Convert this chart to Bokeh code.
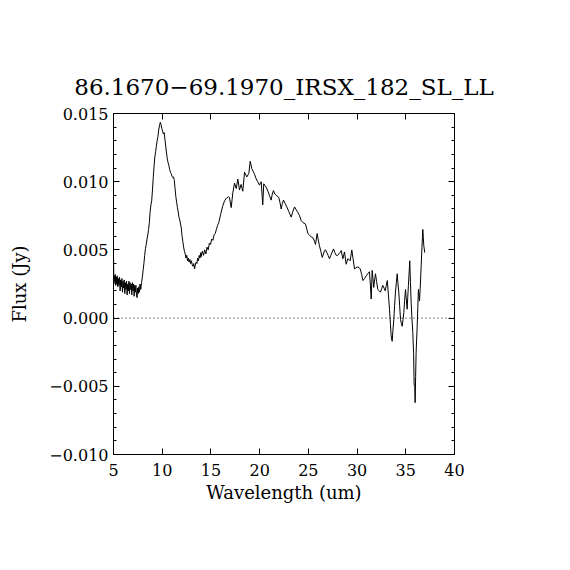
from bokeh.plotting import figure
from bokeh.models import Range1d, LinearAxis, FixedTicker, Span
from bokeh.embed import file_html
from bokeh.resources import INLINE

# Wavelength (um) and flux (Jy)
wavelength = [
    5.00, 5.04, 5.08, 5.13, 5.18, 5.23, 5.28, 5.33, 5.38, 5.44, 5.50, 5.56, 5.62, 5.68, 5.74,
    5.80, 5.86, 5.92, 5.98, 6.04, 6.10, 6.16, 6.22, 6.28, 6.34, 6.40, 6.46, 6.52, 6.58, 6.64,
    6.70, 6.76, 6.82, 6.88, 6.94, 7.00, 7.06, 7.12, 7.18, 7.24, 7.30, 7.36, 7.42, 7.48, 7.54,
    7.60, 7.66, 7.72, 7.80, 7.88, 7.96, 8.04, 8.12, 8.20, 8.28, 8.36, 8.44, 8.52, 8.60, 8.68,
    8.76, 8.84, 8.92, 9.00, 9.08, 9.16, 9.24, 9.32, 9.40, 9.48, 9.56, 9.64, 9.72, 9.80, 9.88,
    9.96, 10.04, 10.12, 10.20, 10.28, 10.36, 10.44, 10.52, 10.60, 10.68, 10.76, 10.84, 10.92, 11.00, 11.08,
    11.16, 11.24, 11.32, 11.40, 11.48, 11.56, 11.64, 11.72, 11.80, 11.88, 11.96, 12.04, 12.12, 12.20, 12.28,
    12.36, 12.44, 12.52, 12.60, 12.68, 12.76, 12.84, 12.92, 13.00, 13.08, 13.16, 13.24, 13.32, 13.40, 13.48,
    13.56, 13.64, 13.72, 13.80, 13.88, 13.96,
    14.00, 14.12, 14.24, 14.36, 14.48, 14.60, 14.72, 14.84, 14.96, 15.08, 15.20, 15.32, 15.44, 15.56, 15.68,
    15.80, 16.00, 16.20, 16.40, 16.60, 16.80,
    16.90, 17.08, 17.25, 17.42, 17.60, 17.76, 17.93, 18.10, 18.27, 18.45, 18.68, 18.89, 19.03, 19.20, 19.37,
    19.50, 19.65, 19.80, 19.98, 20.16, 20.32, 20.42, 20.55, 20.67, 20.85, 21.00, 21.18, 21.30, 21.42, 21.56,
    21.70, 21.96, 22.08, 22.21, 22.33, 22.45, 22.62, 22.79, 23.00, 23.24, 23.40, 23.58, 23.75, 23.92, 24.10,
    24.26, 24.45, 24.70, 24.82, 24.95, 25.10, 25.29, 25.46, 25.63, 25.73, 25.90, 26.00, 26.14, 26.28, 26.42,
    26.55, 26.66, 26.76, 26.90, 27.03, 27.17, 27.30, 27.45, 27.58, 27.72, 27.86, 28.00, 28.12, 28.25, 28.37,
    28.54, 28.71, 28.88, 29.05, 29.17, 29.29, 29.46, 29.60, 29.74, 29.90, 30.08, 30.20, 30.33, 30.47, 30.60,
    30.77, 30.94, 31.10, 31.27, 31.36, 31.45, 31.55, 31.63, 31.71, 31.80, 31.89, 32.00, 32.13, 32.27, 32.40,
    32.52, 32.64, 32.77, 32.89, 33.00, 33.10, 33.22, 33.33, 33.42, 33.50, 33.60, 33.68, 33.77, 33.85, 33.94,
    34.03, 34.12, 34.20, 34.28, 34.37, 34.46, 34.55, 34.63, 34.72, 34.80, 34.88, 34.97, 35.05, 35.14, 35.20,
    35.27, 35.34, 35.41, 35.48, 35.55, 35.63, 35.72, 35.80, 35.86, 35.92, 35.96, 36.01, 36.06, 36.11, 36.16,
    36.23, 36.30, 36.36, 36.41, 36.50, 36.58, 36.66, 36.75, 36.80, 36.85, 36.95,
]
flux_mjy = [
    4.6, 2.5, 3.1, 2.7, 3.2, 2.4, 3.0, 2.5, 3.1, 2.3, 2.9, 2.4, 3.0, 2.0, 2.8,
    2.3, 2.9, 1.9, 2.7, 2.2, 2.8, 1.8, 2.6, 2.1, 2.7, 1.7, 2.5, 2.0, 2.7, 1.8,
    2.6, 2.1, 2.5, 1.7, 2.6, 2.0, 2.5, 1.6, 2.4, 1.9, 2.4, 1.7, 1.5, 2.2, 1.8,
    2.3, 1.9, 2.5, 2.1, 2.6, 3.0, 3.5, 4.0, 4.6, 5.1, 5.4, 5.8, 6.1, 6.5, 7.0,
    7.8, 8.3, 8.6, 9.4, 10.3, 11.1, 11.8, 12.2, 12.6, 13.0, 13.3, 13.8, 14.1, 14.35, 14.2,
    13.9, 13.7, 13.5, 13.6, 13.1, 12.6, 12.1, 11.7, 11.4, 11.2, 10.9, 10.7, 10.6, 10.4, 10.3,
    10.35, 10.1, 9.5, 8.9, 8.5, 8.1, 7.8, 7.4, 7.2, 6.9, 6.6, 6.0, 5.6, 5.2, 4.9,
    4.7, 4.4, 4.6, 4.2, 4.4, 4.1, 4.3, 4.0, 4.2, 3.9, 3.8, 4.0, 3.6, 3.9, 4.1,
    4.0, 4.4, 4.2, 4.6, 4.4, 4.8,
    4.5, 4.9, 4.6, 5.0, 4.7, 5.2, 5.0, 5.5, 5.4, 5.8, 5.7, 6.1, 6.2, 6.5, 6.8,
    7.0, 7.6, 8.2, 8.6, 8.8, 8.9,
    8.85, 8.1, 9.2, 9.9, 9.5, 10.2, 9.4, 9.8, 9.3, 10.7, 10.35, 10.6, 11.5, 10.95, 10.7,
    10.5, 10.2, 10.0, 9.75, 10.0, 8.3, 9.85, 9.7, 9.6, 9.3, 9.0, 8.65, 9.1, 9.35, 9.1,
    9.0, 8.85, 8.5, 8.0, 8.4, 8.65, 8.4, 8.15, 7.8, 7.4, 7.8, 8.15, 7.95, 7.75, 7.5,
    7.15, 7.0, 6.9, 6.6, 6.2, 6.1, 5.95, 5.9, 5.65, 5.4, 6.2, 5.8, 5.3, 4.9, 4.45,
    4.7, 4.95, 5.0, 4.8, 4.6, 4.35, 4.6, 4.85, 5.07, 4.8, 4.6, 4.6, 4.7, 4.8, 4.95,
    4.35, 4.85, 3.95, 4.35, 4.3, 4.2, 5.0, 4.3, 3.6, 3.7, 3.75, 3.7, 3.6, 3.2, 2.75,
    2.9, 3.1, 3.25, 3.4, 2.5, 1.4, 3.5, 2.9, 2.25, 2.8, 3.25, 2.7, 2.1, 2.0, 1.9,
    2.15, 2.4, 2.2, 2.0, 2.4, 2.75, 1.7, 0.65, -0.4, -1.3, -1.7, -0.9, -0.1, 0.9, 1.9,
    2.6, 3.25, 2.5, 1.9, 0.9, -0.1, -0.4, -0.6, -0.1, 0.4, 1.3, 2.1, 1.4, 0.65, 1.5,
    2.4, 3.3, 4.2, 2.6, 1.15, 0.0, -1.05, -2.6, -4.9, -5.0, -6.2, -4.3, -2.5, -1.6, -0.8,
    0.7, 2.1, 1.6, 1.25, 2.5, 3.85, 5.2, 6.5, 5.9, 5.3, 4.8,
]
flux = [v / 1000.0 for v in flux_mjy]

title_text = "86.1670\u221269.1970_IRSX_182_SL_LL"
x_label = "Wavelength (um)"
y_label = "Flux (Jy)"
x_ticks = [5, 10, 15, 20, 25, 30, 35, 40]
y_ticks = [-0.010, -0.005, 0.0, 0.005, 0.010, 0.015]
y_tick_labels = ["\u22120.010", "\u22120.005", "0.000", "0.005", "0.010", "0.015"]
y_minor_ticks = [-0.009, -0.008, -0.007, -0.006, -0.004, -0.003, -0.002, -0.001,
                 0.001, 0.002, 0.003, 0.004, 0.006, 0.007, 0.008, 0.009,
                 0.011, 0.012, 0.013, 0.014]

FONT = "DejaVu Serif"

p = figure(frame_width=341, frame_height=341,
           min_border_left=113, min_border_right=100,
           min_border_top=113, min_border_bottom=100,
           x_range=Range1d(5, 40), y_range=Range1d(-0.010, 0.015),
           output_backend="svg", toolbar_location=None,
           background_fill_color="white", border_fill_color="white")

p.grid.visible = False
p.outline_line_color = "black"
p.outline_line_width = 1

p.title.text = title_text
p.title.align = "center"
p.title.text_font = FONT
p.title.text_font_size = "23px"
p.title.text_font_style = "normal"
p.title.text_color = "black"
p.title.standoff = 28

xt = FixedTicker(ticks=x_ticks, minor_ticks=[])
yt = FixedTicker(ticks=y_ticks, minor_ticks=y_minor_ticks)

def style_axis(ax, ticker):
    ax.ticker = ticker
    ax.axis_line_color = "black"
    ax.major_tick_line_color = "black"
    ax.minor_tick_line_color = "black"
    ax.major_tick_in = 6
    ax.major_tick_out = 0
    ax.minor_tick_in = 3
    ax.minor_tick_out = 0
    ax.major_label_text_font = FONT
    ax.major_label_text_font_size = "16px"
    ax.major_label_text_color = "black"
    ax.axis_label_text_font = FONT
    ax.axis_label_text_font_size = "18px"
    ax.axis_label_text_font_style = "normal"
    ax.axis_label_text_color = "black"

xa = p.xaxis[0]
style_axis(xa, xt)
xa.axis_label = x_label
xa.major_label_standoff = 9
xa.axis_label_standoff = 3

ya = p.yaxis[0]
style_axis(ya, yt)
ya.axis_label = y_label
ya.major_label_standoff = 5
ya.axis_label_standoff = 16
ya.major_label_overrides = {t: s for t, s in zip(y_ticks, y_tick_labels)}

top = LinearAxis()
style_axis(top, FixedTicker(ticks=x_ticks, minor_ticks=[]))
top.major_label_overrides = {t: "" for t in x_ticks}
p.add_layout(top, "above")
right = LinearAxis()
style_axis(right, FixedTicker(ticks=y_ticks, minor_ticks=y_minor_ticks))
right.major_label_overrides = {t: "" for t in y_ticks}
p.add_layout(right, "right")

p.add_layout(Span(location=0, dimension="width", line_color="black",
                  line_width=1, line_dash="1 3"))

p.line(wavelength, flux, line_color="black", line_width=1)

open("out.html", "w").write(file_html(p, INLINE))
